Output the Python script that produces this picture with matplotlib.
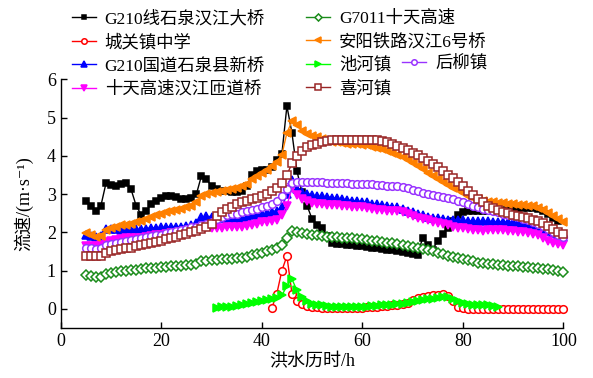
import numpy as np
import matplotlib
matplotlib.use("Agg")
import matplotlib.pyplot as plt

FONT = ["Liberation Serif", "Noto Sans CJK SC", "DejaVu Sans"]
plt.rcParams["font.family"] = FONT
plt.rcParams["axes.unicode_minus"] = False

# ---- data: flow velocity (m/s), hourly samples starting at the given hour ----
names = ["G210线石泉汉江大桥", "城关镇中学", "G210国道石泉县新桥", "十天高速汉江匝道桥",
         "G7011十天高速", "安阳铁路汉江6号桥", "池河镇", "后柳镇", "喜河镇"]

start_g210_old = 5
v_g210_old = [2.83, 2.68, 2.55, 2.7, 3.28, 3.24, 3.2, 3.26, 3.3, 3.12,
              2.7, 2.46, 2.55, 2.75, 2.83, 2.9, 2.94, 2.96, 2.92, 2.88,
              2.86, 2.9, 3.0, 3.48, 3.4, 3.2, 3.12, 3.08, 3.07, 3.06,
              3.06, 3.08, 3.2, 3.5, 3.6, 3.62, 3.64, 3.72, 3.9, 4.05,
              5.3, 4.6, 3.6, 3.05, 2.7, 2.35, 2.2, 2.12, 1.9, 1.72,
              1.7, 1.69, 1.67, 1.66, 1.65, 1.63, 1.62, 1.6, 1.58, 1.56,
              1.55, 1.53, 1.5, 1.48, 1.46, 1.44, 1.42, 1.85, 1.68, 1.55,
              1.78, 1.95, 2.12, 2.3, 2.45, 2.52, 2.55, 2.55, 2.56, 2.55,
              2.55, 2.56, 2.57, 2.58, 2.6, 2.6, 2.62, 2.63, 2.64, 2.64,
              2.62, 2.55, 2.48, 2.38, 2.3]

start_chengguan = 42
v_chengguan = [0.02, 0.4, 1.0, 1.38, 0.4, 0.2, 0.12, 0.08, 0.05, 0.04,
               0.03, 0.02, 0.02, 0.01, 0.01, 0.01, 0.02, 0.02, 0.03, 0.04,
               0.05, 0.06, 0.07, 0.08, 0.09, 0.11, 0.13, 0.16, 0.22, 0.28,
               0.31, 0.33, 0.35, 0.37, 0.38, 0.33, 0.2, 0.06, 0.02, 0.0,
               0.0, 0.0, 0.0, 0.0, 0.0, 0.0, 0.0, 0.0, 0.0, 0.0,
               0.0, 0.0, 0.0, 0.0, 0.0, 0.0, 0.0, 0.0, 0.0]

start_g210_new = 5
v_g210_new = [1.94, 1.9, 1.88, 1.9, 2.1, 2.1, 2.08, 2.06, 2.06, 2.07,
              2.08, 2.08, 2.1, 2.12, 2.12, 2.13, 2.14, 2.15, 2.15, 2.15,
              2.16, 2.18, 2.25, 2.4, 2.42, 2.41, 2.39, 2.38, 2.37, 2.35,
              2.34, 2.35, 2.4, 2.44, 2.46, 2.48, 2.5, 2.53, 2.57, 2.65,
              3.0, 3.38, 3.12, 3.05, 3.01, 2.98, 2.95, 2.94, 2.93, 2.91,
              2.89, 2.87, 2.85, 2.83, 2.82, 2.8, 2.78, 2.75, 2.73, 2.71,
              2.69, 2.67, 2.65, 2.62, 2.57, 2.52, 2.48, 2.44, 2.41, 2.38,
              2.37, 2.35, 2.33, 2.32, 2.32, 2.31, 2.3, 2.3, 2.29, 2.29,
              2.29, 2.28, 2.28, 2.28, 2.27, 2.26, 2.25, 2.24, 2.22, 2.19,
              2.15, 2.1, 2.04, 1.98, 1.93, 1.89]

start_ramp = 5
v_ramp = [1.65, 1.65, 1.65, 1.66, 1.76, 1.78, 1.8, 1.82, 1.84, 1.86,
          1.86, 1.86, 1.87, 1.9, 1.92, 1.94, 1.96, 1.97, 1.98, 2.0,
          2.01, 2.03, 2.07, 2.12, 2.13, 2.12, 2.12, 2.12, 2.13, 2.14,
          2.15, 2.15, 2.16, 2.19, 2.23, 2.26, 2.28, 2.3, 2.33, 2.45,
          2.7, 3.15, 2.98, 2.88, 2.81, 2.76, 2.74, 2.73, 2.72, 2.72,
          2.71, 2.7, 2.68, 2.67, 2.66, 2.65, 2.63, 2.61, 2.59, 2.58,
          2.57, 2.56, 2.55, 2.52, 2.47, 2.42, 2.38, 2.34, 2.31, 2.28,
          2.25, 2.22, 2.18, 2.14, 2.12, 2.11, 2.09, 2.07, 2.05, 2.04,
          2.05, 2.06, 2.07, 2.06, 2.04, 2.03, 2.02, 2.01, 1.99, 1.96,
          1.92, 1.85, 1.78, 1.72, 1.69, 1.67]

start_g7011 = 5
v_g7011 = [0.88, 0.86, 0.84, 0.83, 0.92, 0.95, 0.97, 0.98, 1.0, 1.01,
           1.02, 1.04, 1.06, 1.07, 1.08, 1.09, 1.1, 1.11, 1.12, 1.13,
           1.14, 1.15, 1.18, 1.24, 1.26, 1.27, 1.28, 1.29, 1.3, 1.31,
           1.32, 1.34, 1.36, 1.4, 1.44, 1.47, 1.5, 1.54, 1.6, 1.67,
           1.85, 2.03, 2.02, 1.97, 1.95, 1.94, 1.92, 1.9, 1.89, 1.88,
           1.87, 1.86, 1.85, 1.84, 1.83, 1.82, 1.8, 1.78, 1.77, 1.75,
           1.73, 1.71, 1.69, 1.67, 1.65, 1.62, 1.6, 1.57, 1.54, 1.51,
           1.47, 1.43, 1.39, 1.35, 1.33, 1.3, 1.27, 1.24, 1.21, 1.19,
           1.17, 1.16, 1.15, 1.14, 1.13, 1.12, 1.11, 1.1, 1.09, 1.08,
           1.07, 1.05, 1.03, 1.01, 0.99, 0.97]

start_anyang = 5
v_anyang = [1.98, 1.93, 1.88, 1.9, 2.05, 2.12, 2.15, 2.18, 2.2, 2.23,
            2.26, 2.3, 2.35, 2.4, 2.44, 2.48, 2.52, 2.55, 2.58, 2.61,
            2.65, 2.7, 2.78, 2.95, 3.0, 3.03, 3.06, 3.08, 3.1, 3.13,
            3.17, 3.2, 3.27, 3.4, 3.48, 3.56, 3.64, 3.73, 3.85, 4.03,
            4.6, 4.9, 4.8, 4.66, 4.58, 4.52, 4.48, 4.44, 4.4, 4.37,
            4.35, 4.33, 4.32, 4.31, 4.3, 4.29, 4.27, 4.24, 4.21, 4.17,
            4.12, 4.07, 4.02, 3.96, 3.89, 3.81, 3.73, 3.65, 3.56, 3.48,
            3.4, 3.32, 3.24, 3.16, 3.1, 3.02, 2.95, 2.9, 2.86, 2.82,
            2.8, 2.78, 2.77, 2.76, 2.75, 2.74, 2.72, 2.71, 2.7, 2.68,
            2.64, 2.58, 2.5, 2.42, 2.35, 2.28]

start_chihe = 31
v_chihe = [0.03, 0.04, 0.05, 0.06, 0.08, 0.1, 0.13, 0.15, 0.17, 0.2,
           0.23, 0.25, 0.28, 0.35, 0.6, 0.78, 0.48, 0.3, 0.2, 0.14,
           0.11, 0.09, 0.07, 0.06, 0.05, 0.05, 0.05, 0.05, 0.05, 0.06,
           0.06, 0.07, 0.08, 0.09, 0.1, 0.11, 0.12, 0.14, 0.16, 0.18,
           0.2, 0.23, 0.25, 0.27, 0.29, 0.31, 0.32, 0.27, 0.2, 0.15,
           0.12, 0.11, 0.1, 0.1, 0.1, 0.08, 0.04]

start_houliu = 5
v_houliu = [1.59, 1.58, 1.57, 1.58, 1.66, 1.7, 1.73, 1.76, 1.78, 1.8,
            1.83, 1.86, 1.88, 1.9, 1.92, 1.94, 1.97, 2.0, 2.03, 2.06,
            2.1, 2.13, 2.15, 2.2, 2.23, 2.28, 2.34, 2.4, 2.44, 2.47,
            2.49, 2.52, 2.55, 2.58, 2.62, 2.66, 2.7, 2.75, 2.83, 2.95,
            3.12, 3.3, 3.32, 3.32, 3.32, 3.32, 3.32, 3.31, 3.3, 3.3,
            3.3, 3.29, 3.28, 3.27, 3.27, 3.26, 3.25, 3.25, 3.24, 3.23,
            3.22, 3.21, 3.2, 3.18, 3.15, 3.11, 3.07, 3.04, 3.0, 2.97,
            2.95, 2.92, 2.89, 2.86, 2.82, 2.78, 2.74, 2.7, 2.66, 2.62,
            2.58, 2.55, 2.52, 2.49, 2.46, 2.43, 2.4, 2.36, 2.32, 2.28,
            2.22, 2.16, 2.08, 2.0, 1.94, 1.89]

start_xihe = 5
v_xihe = [1.37, 1.37, 1.37, 1.38, 1.47, 1.52, 1.55, 1.57, 1.58, 1.6,
          1.63, 1.66, 1.69, 1.72, 1.75, 1.78, 1.82, 1.86, 1.89, 1.93,
          1.96, 2.0, 2.04, 2.1, 2.14, 2.22, 2.42, 2.52, 2.6, 2.67,
          2.73, 2.78, 2.83, 2.87, 2.91, 2.95, 3.0, 3.07, 3.17, 3.3,
          3.5, 3.8, 4.0, 4.12, 4.22, 4.28, 4.32, 4.36, 4.38, 4.4,
          4.41, 4.42, 4.42, 4.42, 4.42, 4.42, 4.42, 4.41, 4.4, 4.38,
          4.35, 4.31, 4.26, 4.2, 4.14, 4.08, 4.02, 3.95, 3.87, 3.79,
          3.7, 3.6, 3.5, 3.42, 3.32, 3.2, 3.08, 2.97, 2.87, 2.78,
          2.7, 2.64, 2.58, 2.54, 2.5, 2.46, 2.43, 2.4, 2.37, 2.33,
          2.29, 2.24, 2.17, 2.1, 2.02, 1.95]

x_ticks = [0, 20, 40, 60, 80, 100]
y_ticks = [0, 1, 2, 3, 4, 5, 6]

# ---- styles per station ----
series = [
    (start_g210_old, v_g210_old, dict(color="black", marker="s", ms=5, mfc="black")),
    (start_chengguan, v_chengguan, dict(color="#ff0000", marker="o", ms=5.5, mfc="white")),
    (start_g210_new, v_g210_new, dict(color="#0000ff", marker="^", ms=6, mfc="#0000ff")),
    (start_ramp, v_ramp, dict(color="#ff00ff", marker="v", ms=6, mfc="#ff00ff")),
    (start_g7011, v_g7011, dict(color="#1a8c1a", marker="D", ms=5, mfc="white")),
    (start_anyang, v_anyang, dict(color="#ff8000", marker="<", ms=6.2, mfc="#ff8000")),
    (start_chihe, v_chihe, dict(color="#00ff00", marker=">", ms=6.2, mfc="#00ff00")),
    (start_houliu, v_houliu, dict(color="#9933ff", marker="o", ms=5.5, mfc="white")),
    (start_xihe, v_xihe, dict(color="#992626", marker="s", ms=5.2, mfc="white")),
]

fig = plt.figure(figsize=(5.93, 3.78), dpi=100)
ax = fig.add_axes([0.1024, 0.1323, 0.8476, 0.658])

handles = []
for (t0, vals, st), name in zip(series, names):
    t = t0 + np.arange(len(vals))
    ln, = ax.plot(t, vals, lw=1.0, mew=1.1, label=name, clip_on=False, **st)
    handles.append(ln)

ax.set_xlim(0, 100)
ax.set_ylim(-0.5, 6)
ax.set_xticks(x_ticks)
ax.set_yticks(y_ticks)
ax.spines["top"].set_visible(False)
ax.spines["right"].set_visible(False)
for s in ("left", "bottom"):
    ax.spines[s].set_linewidth(1.0)
ax.tick_params(direction="in", length=4, width=1.0, labelsize=13)
for lab in ax.get_xticklabels() + ax.get_yticklabels():
    lab.set_family(FONT)

ax.set_xlabel("洪水历时/h", fontsize=13, labelpad=2)
ax.set_ylabel("流速/(m·s⁻¹)", fontsize=13, labelpad=10)

# legend laid out in two columns, with one extra entry on the third row
row_h = 22.5 / 378
top = 0.972
leg_kw = dict(frameon=False, handlelength=1.4, handletextpad=0.5,
              labelspacing=0.41, borderpad=0, borderaxespad=0, markerscale=0.72,
              prop={"family": FONT, "size": 12.5})
fig.legend([handles[i] for i in (0, 1, 2, 3)], [names[i] for i in (0, 1, 2, 3)],
           loc="upper left", bbox_to_anchor=(0.121, top), **leg_kw)
fig.legend([handles[i] for i in (4, 5, 6, 8)], [names[i] for i in (4, 5, 6, 8)],
           loc="upper left", bbox_to_anchor=(0.516, top), **leg_kw)
fig.legend([handles[7]], [names[7]],
           loc="upper left", bbox_to_anchor=(0.678, top - 2 * row_h), **leg_kw)

fig.savefig("out.png", dpi=100)
